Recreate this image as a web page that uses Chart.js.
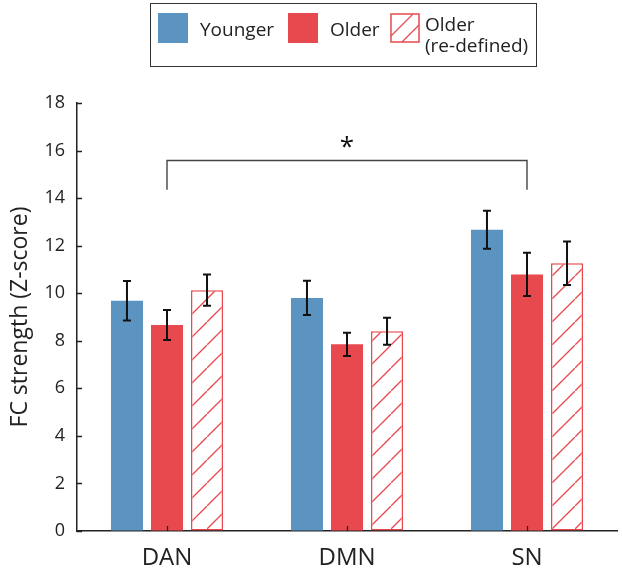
<!DOCTYPE html>
<html>
<head>
<meta charset="utf-8">
<script src="https://cdn.jsdelivr.net/npm/chart.js@4.4.0/dist/chart.umd.min.js"></script>
<style>
  html, body { margin: 0; padding: 0; background: #fff; }
  #wrap { position: relative; width: 622px; height: 569px; font-family: 'Open Sans', sans-serif; }
  #legend { position: absolute; left: 150px; top: 3px; width: 387px; height: 64px; border: 1.5px solid #333; box-sizing: border-box; }
  .item { position: absolute; top: 9px; }
  .item canvas { position: absolute; left: 0; top: 0; }
  .item span { position: absolute; top: -4px; white-space: pre; font-size: 19px; line-height: 21px; color: #222; }
</style>
</head>
<body>
<div id="wrap">
  <canvas id="fcChart" width="622" height="569"></canvas>
  <div id="legend"></div>
</div>
<script>
const networks = ['DAN', 'DMN', 'SN'];
const groupNames = ['Younger', 'Older', 'Older\n(re-defined)'];
const younger = [9.68, 9.80, 12.67];
const older = [8.66, 7.85, 10.79];
const olderRedef = [10.13, 8.40, 11.26];
const youngerErr = [0.83, 0.72, 0.80];
const olderErr = [0.63, 0.49, 0.91];
const olderRedefErr = [0.66, 0.57, 0.91];
const yTicks = [0, 2, 4, 6, 8, 10, 12, 14, 16, 18];
// significance bracket between DAN and SN (in data units)
const bracketFrom = 0, bracketTo = 2;
const bracketTop = 15.58, bracketLeg = 14.35, starY = 16.3;

const blue = '#5b94c1';
const red = '#e8494e';

function hatchPattern(size){
	const c = document.createElement('canvas');
	c.width = size; c.height = size;
	const g = c.getContext('2d');
	g.fillStyle = '#fff';
	g.fillRect(0, 0, size, size);
	g.strokeStyle = red;
	g.lineWidth = 1.3;
	g.beginPath();
	g.moveTo(-2, size + 2); g.lineTo(size + 2, -2);
	g.stroke();
	return document.getElementById('fcChart').getContext('2d').createPattern(c, 'repeat');
}

const hatch = hatchPattern(23);
const errors = [youngerErr, olderErr, olderRedefErr];

const errorBars = {
	id: 'errorBars',
	afterDatasetsDraw(chart){
		const ctx = chart.ctx, y = chart.scales.y;
		ctx.save();
		ctx.strokeStyle = '#111';
		ctx.lineWidth = 2;
		chart.data.datasets.forEach((ds, i) => {
			const meta = chart.getDatasetMeta(i);
			meta.data.forEach((bar, j) => {
				const hi = y.getPixelForValue(ds.data[j] + errors[i][j]);
				const lo = y.getPixelForValue(ds.data[j] - errors[i][j]);
				ctx.beginPath();
				ctx.moveTo(bar.x, hi); ctx.lineTo(bar.x, lo);
				ctx.moveTo(bar.x - 4, hi); ctx.lineTo(bar.x + 4, hi);
				ctx.moveTo(bar.x - 4, lo); ctx.lineTo(bar.x + 4, lo);
				ctx.stroke();
			});
		});
		ctx.restore();
	}
};

const extras = {
	id: 'extras',
	afterDraw(chart){
		const ctx = chart.ctx, x = chart.scales.x, y = chart.scales.y;
		const area = chart.chartArea;
		ctx.save();
		ctx.strokeStyle = '#222';
		ctx.lineWidth = 1.3;
		ctx.beginPath();
		// inward ticks
		yTicks.forEach(v => {
			const py = Math.round(y.getPixelForValue(v)) + 0.5;
			ctx.moveTo(area.left, py); ctx.lineTo(area.left + 5, py);
		});
		networks.forEach((n, i) => {
			const px = Math.round(x.getPixelForValue(i)) + 0.5;
			ctx.moveTo(px, area.bottom); ctx.lineTo(px, area.bottom - 5);
		});
		ctx.stroke();
		// bracket
		const xa = x.getPixelForValue(bracketFrom), xb = x.getPixelForValue(bracketTo);
		const yt = y.getPixelForValue(bracketTop), yl = y.getPixelForValue(bracketLeg);
		ctx.strokeStyle = '#444';
		ctx.lineWidth = 1.4;
		ctx.beginPath();
		ctx.moveTo(xa, yl); ctx.lineTo(xa, yt); ctx.lineTo(xb, yt); ctx.lineTo(xb, yl);
		ctx.stroke();
		ctx.fillStyle = '#111';
		ctx.font = '26px "Open Sans"';
		ctx.textAlign = 'center';
		ctx.textBaseline = 'middle';
		ctx.fillText('*', (xa + xb) / 2, y.getPixelForValue(starY) + 4);
		ctx.restore();
	}
};

const chart = new Chart(document.getElementById('fcChart'), {
	type: 'bar',
	data: {
		labels: networks,
		datasets: [
			{ label: groupNames[0], data: younger, backgroundColor: blue, borderWidth: 0 },
			{ label: groupNames[1], data: older, backgroundColor: red, borderWidth: 0 },
			{ label: groupNames[2], data: olderRedef, backgroundColor: hatch, borderColor: red, borderWidth: 1.5, borderSkipped: false }
		]
	},
	options: {
		responsive: false,
		animation: false,
		datasets: { bar: { categoryPercentage: 0.667, barPercentage: 0.8 } },
		layout: { padding: { top: 103, right: 5, left: 0, bottom: 0 } },
		plugins: { legend: { display: false }, tooltip: { enabled: false } },
		scales: {
			x: {
				grid: { drawOnChartArea: false, drawTicks: false },
				border: { color: '#222', width: 1.5 },
				ticks: { color: '#222', font: { family: 'Open Sans', size: 24 }, padding: 13 },
				afterFit(s){ s.height = 38; }
			},
			y: {
				min: 0, max: 18,
				grid: { drawOnChartArea: false, drawTicks: false },
				border: { color: '#222', width: 1.5 },
				ticks: { stepSize: 2, color: '#222', font: { family: 'Open Sans', size: 18 }, padding: 12 },
				title: { display: true, text: 'FC strength (Z-score)', color: '#222', font: { family: 'Open Sans', size: 23 }, padding: { top: 7 } },
				afterFit(s){ s.width = 77; }
			}
		}
	},
	plugins: [errorBars, extras]
});

// legend box, built from the dataset labels
const legend = document.getElementById('legend');
const legendX = [7, 137, 239];
chart.data.datasets.forEach((ds, i) => {
	const item = document.createElement('div');
	item.className = 'item';
	item.style.left = legendX[i] + 'px';
	const sw = document.createElement('canvas');
	sw.width = 30; sw.height = 30;
	const g = sw.getContext('2d');
	if (i === 2) {
		g.fillStyle = '#fff'; g.fillRect(0, 0, 30, 30);
		g.strokeStyle = red; g.lineWidth = 1.2;
		g.beginPath();
		g.moveTo(1, 23); g.lineTo(23, 1);
		g.moveTo(12, 29); g.lineTo(29, 12);
		g.stroke();
		g.lineWidth = 1.5;
		g.strokeRect(1, 1, 28, 28);
	} else {
		g.fillStyle = ds.backgroundColor; g.fillRect(0, 0, 30, 30);
	}
	item.appendChild(sw);
	const t = document.createElement('span');
	t.textContent = ds.label;
	t.style.left = (i === 2 ? 35 : 42) + 'px';
	t.style.top = (i === 2 ? '1px' : '6px');
	item.appendChild(t);
	legend.appendChild(item);
});
</script>
</body>
</html>
